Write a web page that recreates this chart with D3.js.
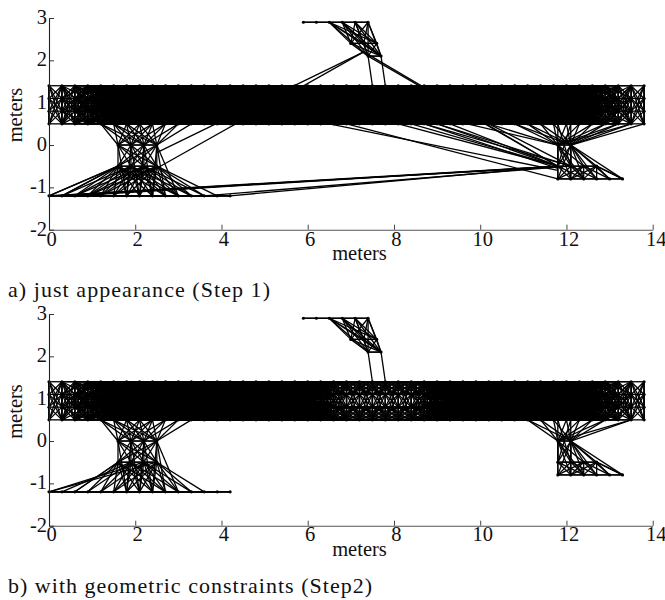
<!DOCTYPE html>
<html><head><meta charset="utf-8">
<script src="https://cdn.jsdelivr.net/npm/d3@7"></script>
<style>html,body{margin:0;background:#fff}svg{display:block}text{font-family:"Liberation Serif",serif;fill:#111}</style>
</head><body><svg id="c" width="665" height="600"></svg>
<script>
// ---- data (metres) ----
const xTicks=[0,2,4,6,8,10,12,14];
const yTicks=[-2,-1,0,1,2,3];
const corridorX=[0,.3,.6,.9,1.2,1.5,1.8,2.1,2.4,2.7,3,3.3,3.6,3.9,4.2,4.5,4.8,5.1,5.4,5.7,6,6.3,6.6,6.9,7.2,7.5,7.8,8.1,8.4,8.7,9,9.3,9.6,9.9,10.2,10.5,10.8,11.1,11.4,11.7,12,12.3,12.6,12.9,13.2,13.5,13.8];
const corridorY=[1.4,1.1,.8,.5];
const reachFarA =[1,2,3,4,4,4,4,4,4,4,5,5,6,7,9,11,12,12,12,12,12,12,12,12,11,10,10,10,11,12,12,12,12,12,12,12,12,12,12,11,9,7,6,5,3,2,1];
const reachNearA=[1,2,3,4,5,5,5,5,5,5,6,7,8,10,12,12,12,12,12,12,12,12,12,12,12,12,12,12,12,12,12,12,12,12,12,12,12,12,12,11,9,7,6,5,3,2,1];
const reachFarB =[1,2,3,4,4,4,4,4,4,4,4,4,4,4,5,5,6,7,8,9,8,6,4,2,1,1,1,1,2,4,5,7,9,11,12,12,12,12,12,11,9,7,6,5,3,2,1];
const reachNearB=[1,2,3,4,5,5,5,5,5,5,5,5,6,6,7,7,8,9,10,11,10,8,6,4,3,3,3,3,4,5,7,9,11,12,12,12,12,12,12,11,9,7,6,5,3,2,1];
const leftDoorX=[1.2,1.5,1.8,2.1,2.4,2.7,3,3.3];
const rightDoorBX=[11.1,11.4,11.7,12,12.3,12.6,12.9,13.5];
const rightDoorAX=[10.8,11.1,11.4,11.7,12,12.3,12.6,12.9,13.2,13.5,13.8];
const leftRoomX=[1.6,1.9,2.2,2.5];
const leftRoomY=[0,-.5];
const leftFloorX=[0,.3,.6,.9,1.2,1.5,1.8,2.1,2.4,2.7,3,3.3,3.6,3.9,4.2];
const leftFloorY=-1.2;
const rightRoomUpperX=[11.8,12.1];
const rightRoomMiddleX=[11.8,12.1,12.4,12.7];
const rightRoomLowerX=[11.8,12.1,12.4,12.7,13,13.3];
const rightRoomY=[0,-.5,-.8];
const topRoomHighX=[5.9,6.2,6.5,6.8,7.1,7.4];
const topRoomMidX=[7,7.3,7.6];
const topRoomLowX=[7.4,7.7];
const topRoomY=[2.9,2.4,2.1];
// individual links [x1,y1,x2,y2]
const sharedLinks=[[7.4,2.1,7.5,1.4],[7.7,2.1,7.8,1.4],[2.5,0,3,-1.2],[2.5,0,2.7,-1.2],[12.1,0,13,-.8],[12.1,0,13.3,-.8],[12.7,-.5,13.3,-.8]];
const mismatchLinksA=[
 [2.5,-.18,7.3,2.2],[2.5,-.55,7.3,2.2],[7.4,2.1,11.8,-.5],[7.3,2.2,11.8,-.5],
 [6.5,.5,11.8,-.6],[6.9,.5,11.8,-.8],[8.1,.5,11.8,-.5],[8.4,.5,11.8,-.5],[8.7,.5,11.8,-.55],[9,.5,11.8,-.5],[9.3,.5,11.8,-.5],[8.7,.5,12.1,-.5],[9,.5,12.1,-.5],
 [9.7,.5,11.8,0],[10.2,.5,11.8,0],[10.2,.5,12.1,-.5],
 [0,-1.2,11.8,-.5],[.3,-1.2,11.8,-.5],[.6,-1.2,11.8,-.5],[0,-1.2,12.1,-.5],[4.2,-1.2,11.8,-.5],[3.6,-1.2,11.8,-.52],
 [0,-1.2,1.6,-.5],[.3,-1.2,1.6,-.5]
];
const mismatchLinksB=[[0,-1.2,2.5,-.5],[0,-1.2,2.2,-.5],[.6,-1.2,1.6,-.5],[.3,-1.2,1.9,-.5]];
// ---- drawing ----
const W=[49,652.7];
const panels=[
 {top:18,bottom:229.7,farReach:reachFarA,nearReach:reachNearA,door:rightDoorAX,floorDx:1.6,extra:mismatchLinksA,label:"a) just appearance (Step 1)",capY:297,capW:262,tickY:245.5,nameY:260,midY:115},
 {top:314,bottom:525.7,farReach:reachFarB,nearReach:reachNearB,door:rightDoorBX,floorDx:1.1,extra:mismatchLinksB,label:"b) with geometric constraints (Step2)",capY:593,capW:364,tickY:540.7,nameY:555.5,midY:411.5}
];
const svg=d3.select("#c");
const x=d3.scaleLinear().domain([0,14]).range(W);
function cross(ax,ay,bx,by,dx,out){ax.forEach(a=>bx.forEach(b=>{if(Math.abs(a-b)<=dx+1e-9&&!(a===b&&ay===by))out.push([a,ay,b,by]);}));}
function build(p){
 const L=[];
 corridorX.forEach((a,i)=>corridorX.forEach((b,j)=>{
  if(j<i)return;
  const near=Math.min(p.nearReach[i],p.nearReach[j]),far=Math.min(p.farReach[i],p.farReach[j]);
  corridorY.forEach((u,r)=>corridorY.forEach((v,s)=>{
   if(i===j&&r>=s)return;
   const outer=(r===s)||(r+s===1)||(r+s===5);
   if(j-i<=(outer?near:far))L.push([a,u,b,v]);
  }));
 }));
 // left room
 cross(leftDoorX,.5,leftRoomX,0,1.0,L);
 cross(leftRoomX,0,leftRoomX,-.5,1,L);
 cross(leftRoomX,0,leftRoomX,0,.3,L);
 cross(leftRoomX,-.5,leftRoomX,-.5,.3,L);
 cross(leftRoomX,-.5,leftFloorX,leftFloorY,p.floorDx,L);
 cross(leftRoomX,0,leftFloorX.slice(6,9),leftFloorY,.3,L);
 cross(leftFloorX,leftFloorY,leftFloorX,leftFloorY,.6,L);
 // right room
 cross(p.door,.5,rightRoomUpperX,0,1.8,L);
 cross(rightRoomUpperX,.5,rightRoomUpperX,-.5,.3,L);
 cross(rightRoomUpperX,0,rightRoomMiddleX,-.5,.7,L);
 cross(rightRoomUpperX,0,rightRoomLowerX,-.8,.7,L);
 cross(rightRoomUpperX,0,rightRoomUpperX,0,.3,L);
 cross(rightRoomMiddleX,-.5,rightRoomMiddleX,-.5,.3,L);
 cross(rightRoomMiddleX,-.5,rightRoomLowerX,-.8,.6,L);
 cross(rightRoomLowerX,-.8,rightRoomLowerX,-.8,.3,L);
 // top room
 cross(topRoomHighX,2.9,topRoomHighX,2.9,.3,L);
 cross(topRoomHighX.slice(2),2.9,topRoomMidX,2.4,1.1,L);
 cross(topRoomHighX.slice(2),2.9,topRoomLowX,2.1,1.2,L);
 cross(topRoomMidX,2.4,topRoomMidX,2.4,.3,L);
 cross(topRoomMidX,2.4,topRoomLowX,2.1,.7,L);
 cross(topRoomLowX,2.1,topRoomLowX,2.1,.3,L);
 return L.concat(sharedLinks,p.extra);
}
function nodes(){
 const N=[];
 corridorY.forEach(v=>corridorX.forEach(a=>N.push([a,v])));
 leftRoomY.forEach(v=>leftRoomX.forEach(a=>N.push([a,v])));
 leftFloorX.forEach(a=>N.push([a,leftFloorY]));
 rightRoomUpperX.forEach(a=>N.push([a,rightRoomY[0]]));
 rightRoomMiddleX.forEach(a=>N.push([a,rightRoomY[1]]));
 rightRoomLowerX.forEach(a=>N.push([a,rightRoomY[2]]));
 topRoomHighX.forEach(a=>N.push([a,topRoomY[0]]));
 topRoomMidX.forEach(a=>N.push([a,topRoomY[1]]));
 topRoomLowX.forEach(a=>N.push([a,topRoomY[2]]));
 return N;
}
panels.forEach(p=>{
 const y=d3.scaleLinear().domain([-2,3]).range([p.bottom,p.top]);
 const g=svg.append("g");
 g.append("g").selectAll("line").data(build(p)).join("line")
  .attr("x1",d=>x(d[0])).attr("y1",d=>y(d[1])).attr("x2",d=>x(d[2])).attr("y2",d=>y(d[3]))
  .attr("stroke","#000").attr("stroke-width",1.3);
 g.append("g").selectAll("circle").data(nodes()).join("circle")
  .attr("cx",d=>x(d[0])).attr("cy",d=>y(d[1])).attr("r",1.6).attr("fill","#000");
 const ax=g.append("g").attr("transform",`translate(0,${p.bottom})`)
  .call(d3.axisBottom(x).tickValues(xTicks).tickFormat(d3.format("d")).tickSizeInner(-5).tickSizeOuter(0));
 ax.select(".domain").attr("stroke","#555").attr("stroke-width",1.1);
 ax.selectAll(".tick line").attr("stroke","#444");
 ax.selectAll(".tick text").attr("font-size",20.5).attr("text-anchor","middle")
   .attr("dy",null).attr("x",d=>d===14?3:2).attr("y",p.tickY-p.bottom);
 const ay=g.append("g").attr("transform",`translate(${W[0]},0)`)
  .call(d3.axisLeft(y).tickValues(yTicks).tickFormat(d=>d).tickSizeInner(-5).tickSizeOuter(0));
 ay.select(".domain").attr("stroke","#222").attr("stroke-width",1.1);
 ay.selectAll(".tick line").attr("stroke","#333");
 ay.selectAll(".tick text").attr("font-size",20.5).attr("text-anchor","end")
   .attr("x",-2).attr("dy",null).attr("y",5.5);
 g.append("text").attr("x",359.5).attr("y",p.nameY).attr("text-anchor","middle").attr("font-size",20.5).text("meters");
 g.append("text").attr("transform",`translate(22,${p.midY}) rotate(-90)`).attr("text-anchor","middle").attr("font-size",20.5).text("meters");
 g.append("text").attr("x",8).attr("y",p.capY).attr("font-size",22).attr("textLength",p.capW).attr("lengthAdjust","spacing").text(p.label);
});
</script></body></html>
